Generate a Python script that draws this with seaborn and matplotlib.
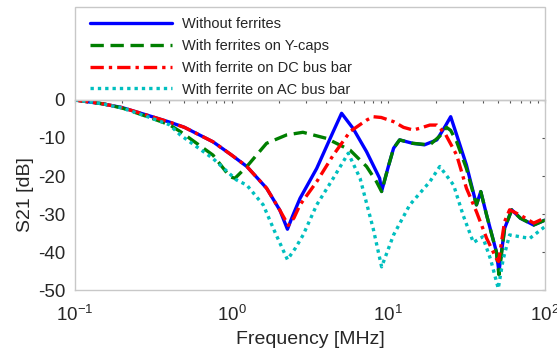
import numpy as np
import pandas as pd
import matplotlib
matplotlib.use("Agg")
import matplotlib.pyplot as plt
from matplotlib.patches import Rectangle
from matplotlib.ticker import FixedLocator, FixedFormatter, LogLocator, NullFormatter
import seaborn as sns

# S21 curves (frequency in MHz, S21 in dB)
f_none = [0.1, 0.15, 0.2, 0.3, 0.4, 0.5, 0.76, 1.0, 1.25, 1.67, 2.03, 2.27, 2.45, 2.73, 3.49,
          4.45, 5.03, 5.96, 7.26, 8.8, 9.06, 10.0, 10.8, 11.8, 14.3, 17.0, 20.4, 23.0, 25.0,
          27.3, 31.5, 36.5, 38.9, 42.4, 48.9, 50.8, 55.2, 61.3, 69.6, 84.6, 100]
s_none = [0, -1.0, -2.0, -4.2, -5.8, -7.2, -11, -14.5, -17.5, -23.2, -29, -34, -30.5, -25.9, -18,
          -8.3, -3.5, -7.5, -13.6, -20.6, -24, -17.5, -12.7, -10.5, -11.4, -11.8, -10.5, -7, -4.4,
          -9.2, -17.1, -27.6, -24.1, -30.3, -39.9, -45.2, -33.8, -28.9, -31.1, -32.9, -31.6]

f_ycap = [0.1, 0.15, 0.2, 0.3, 0.4, 0.47, 0.76, 0.975, 1.05, 1.25, 1.67, 2.24, 2.85, 4.03, 5.7,
          7.26, 8.4, 9.06, 10.0, 10.8, 11.8, 14.3, 18.4, 21.3, 23.5, 25.0, 27.3, 31.5, 36.5,
          38.9, 42.4, 48.9, 50.8, 55.2, 61.3, 69.6, 84.6, 100]
s_ycap = [0, -1.0, -2.1, -4.6, -6.5, -8.3, -14.5, -20.2, -20.6, -17.5, -11.4, -9.2, -8.5, -10.1, -13.2,
          -17.5, -21.5, -24.1, -17.5, -12.7, -10.5, -11.4, -11.8, -9.5, -7.2, -8, -11, -18, -27.6,
          -24.1, -30.3, -40, -46, -33.8, -28.9, -31.1, -32.9, -31.6]

f_dc = [0.1, 0.15, 0.2, 0.3, 0.4, 0.5, 0.76, 1.0, 1.25, 1.67, 2.03, 2.3, 2.5, 2.73, 3.49, 4.45,
        5.7, 7.26, 8.0, 9.0, 10.8, 12.5, 14.4, 16.0, 18.4, 20.4, 23.0, 27.3, 31.5, 36.5, 42.4,
        48.9, 50.5, 55.2, 59.4, 69.6, 84.6, 100]
s_dc = [0, -1.0, -2.0, -4.2, -5.8, -7.2, -11, -14.5, -17.5, -23.2, -29, -33, -31, -27.6, -21.5, -14.5,
        -8.3, -5.3, -4.4, -4.6, -5.7, -7.2, -7.9, -7.4, -6.6, -6.6, -8.8, -14.5, -23.2, -29.4, -36.4,
        -41.7, -42.5, -32, -28.9, -30.3, -32.4, -31]

f_ac = [0.1, 0.15, 0.2, 0.3, 0.4, 0.47, 0.76, 1.07, 1.25, 1.59, 1.9, 2.27, 2.55, 2.86, 3.49, 4.45,
        5.55, 6.6, 8.0, 9.06, 10.8, 13.7, 18.4, 21.3, 26.1, 30.0, 34.9, 40.0, 45.0, 50.3, 54.0,
        59.4, 69.6, 80.0, 100]
s_ac = [0, -1.0, -2.1, -4.6, -6.5, -9.2, -15.4, -21, -22.4, -27.6, -35, -42, -39, -35.5, -27.6, -20.6,
        -14, -20.6, -33.8, -43.9, -35.5, -27.6, -21.5, -17.5, -22.4, -30.3, -37.5, -36, -42, -49.6, -42,
        -35.5, -36, -36.4, -33.3]

labels = ["Without ferrites", "With ferrites on Y-caps",
          "With ferrite on DC bus bar", "With ferrite on AC bus bar"]
xtick_vals = [0.1, 1, 10, 100]
xtick_labels = [r"$\mathregular{10^{-1}}$", r"$\mathregular{10^{0}}$",
                r"$\mathregular{10^{1}}$", r"$\mathregular{10^{2}}$"]
ytick_vals = [0, -10, -20, -30, -40, -50]

sns.set_style("white")
plt.rcParams["font.family"] = ["Liberation Sans", "DejaVu Sans"]
plt.rcParams["axes.unicode_minus"] = False

fig = plt.figure(figsize=(5.57, 3.49), dpi=100)
ax = fig.add_axes([0.1346, 0.169, 0.8439, 0.5445])

series = [(f_none, s_none, "#0000ff", "-"),
          (f_ycap, s_ycap, "#007f00", (0, (4, 2))),
          (f_dc, s_dc, "#ff0000", (0, (4, 1.5, 1, 1.5))),
          (f_ac, s_ac, "#00bfbf", (0, (1, 1.2)))]
for (f, s, c, ls), lab in zip(series, labels):
    df = pd.DataFrame({"f": f, "s": s})
    sns.lineplot(data=df, x="f", y="s", ax=ax, color=c, linestyle=ls,
                 linewidth=2.4, label=lab, sort=False, estimator=None)

ax.set_xscale("log")
ax.set_xlim(0.1, 100)
ax.set_ylim(-50, 0)
ax.xaxis.set_major_locator(FixedLocator(xtick_vals))
ax.xaxis.set_major_formatter(FixedFormatter(xtick_labels))
ax.xaxis.set_minor_locator(LogLocator(base=10, subs=np.arange(2, 10)))
ax.xaxis.set_minor_formatter(NullFormatter())
ax.set_yticks(ytick_vals)
ax.tick_params(axis="both", which="both", direction="in", top=True, right=True,
               color="#555555", labelsize=13.5)
ax.tick_params(which="major", length=2.5, width=0.8)
ax.tick_params(which="minor", length=2, width=0.8)
ax.tick_params(axis="y", pad=7)
ax.tick_params(axis="x", pad=11)
for sp in ax.spines.values():
    sp.set_color("#c8c8c8")
    sp.set_linewidth(1.0)

ax.set_xlabel("Frequency [MHz]", fontsize=14, labelpad=4)
ax.set_ylabel("S21 [dB]", fontsize=14, labelpad=3)

# legend box sits on top of the axes, full width
box = Rectangle((0, 1), 1, 0.4895, transform=ax.transAxes, clip_on=False,
                facecolor="white", edgecolor="#c8c8c8", linewidth=1.0)
ax.add_patch(box)
leg = ax.legend(loc="upper left", bbox_to_anchor=(0.032, 1.437), frameon=False,
                borderaxespad=0, borderpad=0, fontsize=10.5,
                handlelength=5.6, handletextpad=0.7, labelspacing=0.54)

fig.savefig("out.png", dpi=100)
